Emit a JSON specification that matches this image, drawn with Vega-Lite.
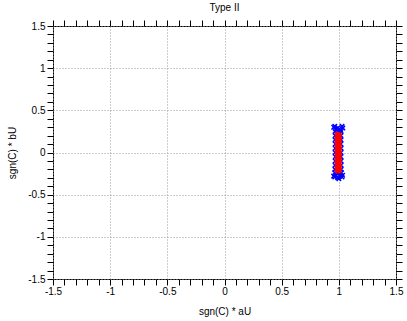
{
  "$schema": "https://vega.github.io/schema/vega-lite/v6.json",
  "width": 343,
  "height": 253,
  "autosize": "none",
  "padding": {"left": 53, "top": 26, "right": 11, "bottom": 42},
  "background": "white",
  "title": {"text": "Type II", "font": "Liberation Sans", "fontSize": 10, "fontWeight": "normal", "color": "black", "offset": 7, "anchor": "middle"},
  "config": {
    "view": {"stroke": "black", "strokeWidth": 1},
    "axis": {
      "labelFont": "Liberation Sans", "labelFontSize": 10, "labelColor": "black",
      "titleFont": "Liberation Sans", "titleFontSize": 10, "titleFontWeight": "normal", "titleColor": "black",
      "domain": false, "tickColor": "black", "tickSize": 6, "gridColor": "#999999", "gridDash": [1, 2], "gridWidth": 1
    }
  },
  "datasets": {
    "blue": [
      {"x": 0.955, "y": 0.30}, {"x": 0.965, "y": 0.31}, {"x": 0.975, "y": 0.28}, {"x": 0.99, "y": 0.29}, {"x": 1.015, "y": 0.27}, {"x": 1.028, "y": 0.31}, {"x": 1.035, "y": 0.29},
      {"x": 0.955, "y": -0.28}, {"x": 0.965, "y": -0.29}, {"x": 0.975, "y": -0.27}, {"x": 0.99, "y": -0.30}, {"x": 1.0, "y": -0.31}, {"x": 1.01, "y": -0.28}, {"x": 1.028, "y": -0.29}, {"x": 1.033, "y": -0.27},
      {"x": 0.967, "y": 0.25}, {"x": 0.968, "y": 0.2}, {"x": 0.967, "y": 0.15}, {"x": 0.969, "y": 0.1}, {"x": 0.968, "y": 0.05}, {"x": 0.967, "y": 0.0}, {"x": 0.969, "y": -0.05}, {"x": 0.968, "y": -0.1}, {"x": 0.967, "y": -0.15}, {"x": 0.966, "y": -0.2}, {"x": 0.964, "y": -0.24},
      {"x": 1.02, "y": 0.25}, {"x": 1.018, "y": 0.2}, {"x": 1.019, "y": 0.15}, {"x": 1.018, "y": 0.1}, {"x": 1.02, "y": 0.05}, {"x": 1.019, "y": 0.0}, {"x": 1.018, "y": -0.05}, {"x": 1.02, "y": -0.1}, {"x": 1.019, "y": -0.15}, {"x": 1.02, "y": -0.2}, {"x": 1.023, "y": -0.24},
      {"x": 0.99, "y": 0.25}, {"x": 1.0, "y": 0.24}, {"x": 0.99, "y": -0.25}, {"x": 1.0, "y": -0.24}
    ],
    "red": [
      {"x": 0.985, "y": 0.22}, {"x": 0.985, "y": 0.18}, {"x": 0.985, "y": 0.14}, {"x": 0.985, "y": 0.1}, {"x": 0.985, "y": 0.06}, {"x": 0.985, "y": 0.02}, {"x": 0.985, "y": -0.02}, {"x": 0.985, "y": -0.06}, {"x": 0.985, "y": -0.1}, {"x": 0.985, "y": -0.14}, {"x": 0.985, "y": -0.18}, {"x": 0.985, "y": -0.22},
      {"x": 1.005, "y": 0.21}, {"x": 1.005, "y": 0.17}, {"x": 1.005, "y": 0.13}, {"x": 1.005, "y": 0.09}, {"x": 1.005, "y": 0.05}, {"x": 1.005, "y": 0.01}, {"x": 1.005, "y": -0.03}, {"x": 1.005, "y": -0.07}, {"x": 1.005, "y": -0.11}, {"x": 1.005, "y": -0.15}, {"x": 1.005, "y": -0.19}, {"x": 1.005, "y": -0.22}
    ]
  },
  "layer": [
    {
      "data": {"name": "blue"},
      "mark": {"type": "point", "shape": "M-1,-1L1,1M-1,1L1,-1", "filled": false, "color": "#0000ff", "size": 20, "strokeWidth": 1.5, "opacity": 1},
      "encoding": {
        "x": {"field": "x", "type": "quantitative", "title": "sgn(C) * aU", "scale": {"domain": [-1.5, 1.5], "nice": false, "zero": false},
          "axis": {"orient": "bottom", "titlePadding": 10,
            "values": [-1.5,-1.4,-1.3,-1.2,-1.1,-1,-0.9,-0.8,-0.7,-0.6,-0.5,-0.4,-0.3,-0.2,-0.1,0,0.1,0.2,0.3,0.4,0.5,0.6,0.7,0.8,0.9,1,1.1,1.2,1.3,1.4,1.5],
            "labelExpr": "abs(datum.value*2 - round(datum.value*2)) < 0.001 ? '' + datum.value : ''",
            "gridOpacity": {"condition": {"test": "abs(datum.value*2 - round(datum.value*2)) < 0.001", "value": 1}, "value": 0},
            "encode": {"ticks": {"update": {"y2": {"signal": "abs(datum.value*2 - round(datum.value*2)) < 0.001 ? -6 : -3"}}}},
            "labelPadding": 1, "labelFlush": false, "labelOverlap": false}},
        "y": {"field": "y", "type": "quantitative", "title": "sgn(C) * bU", "scale": {"domain": [-1.5, 1.5], "nice": false, "zero": false},
          "axis": {"orient": "left", "titlePadding": 10,
            "values": [-1.5,-1.4,-1.3,-1.2,-1.1,-1,-0.9,-0.8,-0.7,-0.6,-0.5,-0.4,-0.3,-0.2,-0.1,0,0.1,0.2,0.3,0.4,0.5,0.6,0.7,0.8,0.9,1,1.1,1.2,1.3,1.4,1.5],
            "labelExpr": "abs(datum.value*2 - round(datum.value*2)) < 0.001 ? '' + datum.value : ''",
            "gridOpacity": {"condition": {"test": "abs(datum.value*2 - round(datum.value*2)) < 0.001", "value": 1}, "value": 0},
            "encode": {"ticks": {"update": {"x2": {"signal": "abs(datum.value*2 - round(datum.value*2)) < 0.001 ? 6 : 3"}}}},
            "labelPadding": 2, "labelFlush": false, "labelOverlap": false}}
      }
    },
    {
      "data": {"name": "red"},
      "mark": {"type": "point", "shape": "circle", "filled": true, "color": "#ff0000", "size": 25, "opacity": 1},
      "encoding": {
        "x": {"field": "x", "type": "quantitative", "title": null,
          "axis": {"orient": "top", "title": null, "labels": false, "grid": false,
            "values": [-1.5,-1.4,-1.3,-1.2,-1.1,-1,-0.9,-0.8,-0.7,-0.6,-0.5,-0.4,-0.3,-0.2,-0.1,0,0.1,0.2,0.3,0.4,0.5,0.6,0.7,0.8,0.9,1,1.1,1.2,1.3,1.4,1.5],
            "encode": {"ticks": {"update": {"y2": {"signal": "abs(datum.value*2 - round(datum.value*2)) < 0.001 ? 6 : 3"}}}}}},
        "y": {"field": "y", "type": "quantitative", "title": null,
          "axis": {"orient": "right", "title": null, "labels": false, "grid": false,
            "values": [-1.5,-1.4,-1.3,-1.2,-1.1,-1,-0.9,-0.8,-0.7,-0.6,-0.5,-0.4,-0.3,-0.2,-0.1,0,0.1,0.2,0.3,0.4,0.5,0.6,0.7,0.8,0.9,1,1.1,1.2,1.3,1.4,1.5],
            "encode": {"ticks": {"update": {"x2": {"signal": "abs(datum.value*2 - round(datum.value*2)) < 0.001 ? -6 : -3"}}}}}}
      }
    }
  ],
  "resolve": {"axis": {"x": "independent", "y": "independent"}}
}
